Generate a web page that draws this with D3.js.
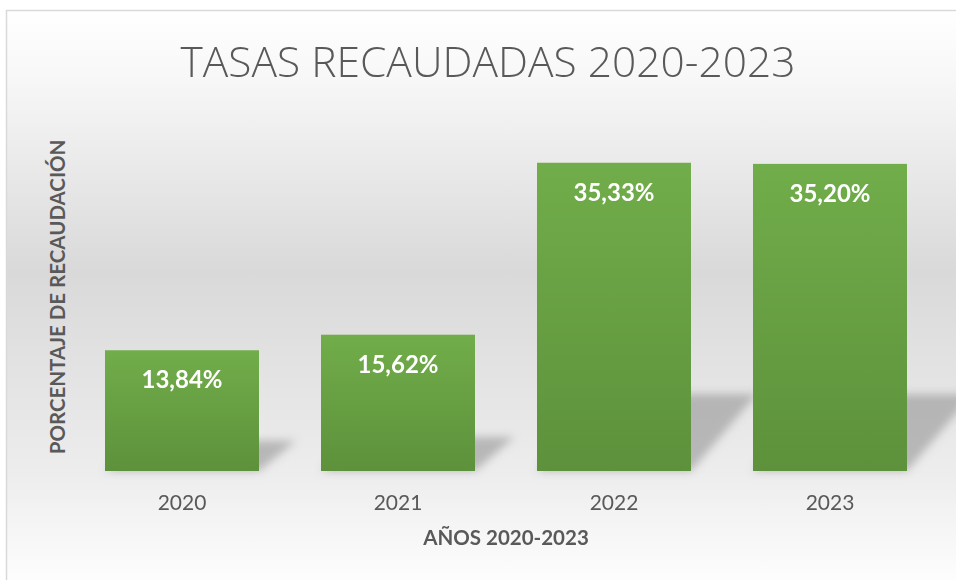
<!DOCTYPE html>
<html>
<head>
<meta charset="utf-8">
<script src="https://cdn.jsdelivr.net/npm/d3@7"></script>
<style>
  body { margin: 0; background: #fff; }
  svg { display: block; }
</style>
</head>
<body>
<script>
// data
var years = ["2020", "2021", "2022", "2023"];
var rates = [13.84, 15.62, 35.33, 35.20];
var labels = ["13,84%", "15,62%", "35,33%", "35,20%"];
var chartTitle = "TASAS RECAUDADAS 2020-2023";
var xTitle = "AÑOS 2020-2023";
var yTitle = "PORCENTAJE DE RECAUDACIÓN";

var width = 956, height = 580;
var font = "Lato, 'Open Sans', sans-serif";
var grey = "#595959";

var svg = d3.select("body").append("svg")
  .attr("width", width)
  .attr("height", height);

var defs = svg.append("defs");

// chart area background gradient (white - grey - white)
var bg = defs.append("linearGradient")
  .attr("id", "bgGrad")
  .attr("x1", 0).attr("y1", 0).attr("x2", 0).attr("y2", 1);
bg.append("stop").attr("offset", "0").attr("stop-color", "#ffffff");
bg.append("stop").attr("offset", "0.12").attr("stop-color", "#f7f7f7");
bg.append("stop").attr("offset", "0.45").attr("stop-color", "#d9d9d9");
bg.append("stop").attr("offset", "0.8").attr("stop-color", "#ededed");
bg.append("stop").attr("offset", "1").attr("stop-color", "#ffffff");

// bar gradient
var barGrad = defs.append("linearGradient")
  .attr("id", "barGrad")
  .attr("x1", 0).attr("y1", 0).attr("x2", 0).attr("y2", 1);
barGrad.append("stop").attr("offset", "0").attr("stop-color", "#71ad4a");
barGrad.append("stop").attr("offset", "1").attr("stop-color", "#5d913b");

// blur for the bar shadows
defs.append("filter")
  .attr("id", "blur")
  .attr("x", "-30%").attr("y", "-30%")
  .attr("width", "160%").attr("height", "160%")
  .append("feGaussianBlur")
  .attr("stdDeviation", 4);

// frame
svg.append("rect")
  .attr("x", 6.5).attr("y", 10.5)
  .attr("width", 960).attr("height", 580)
  .attr("fill", "url(#bgGrad)")
  .attr("stroke", "#d9d9d9")
  .attr("stroke-width", 1.5);

// scales
var x = d3.scaleBand()
  .domain(years)
  .range([74, 938])
  .paddingInner(0.287)
  .paddingOuter(0.1435);

var y = d3.scaleLinear()
  .domain([0, 40])
  .range([471, 122]);

// perspective shadows
svg.append("g")
  .attr("filter", "url(#blur)")
  .selectAll("path")
  .data(rates)
  .join("path")
  .attr("d", function(d, i) {
    var x0 = x(years[i]), x1 = x0 + x.bandwidth();
    var base = y(0), h = y(0) - y(d);
    var sh = h * 0.25, dx = 18 + sh * 0.62;
    return "M" + x0 + "," + base + "L" + x1 + "," + base +
      "L" + (x1 + dx) + "," + (base - sh) + "L" + (x0 + dx) + "," + (base - sh) + "Z";
  })
  .attr("fill", "#8c8c8c")
  .attr("opacity", 0.55);

// bars
svg.append("g")
  .selectAll("rect")
  .data(rates)
  .join("rect")
  .attr("x", function(d, i) { return x(years[i]); })
  .attr("y", function(d) { return y(d); })
  .attr("width", x.bandwidth())
  .attr("height", function(d) { return y(0) - y(d); })
  .attr("fill", "url(#barGrad)");

// value labels
svg.append("g")
  .selectAll("text")
  .data(rates)
  .join("text")
  .attr("x", function(d, i) { return x(years[i]) + x.bandwidth() / 2; })
  .attr("y", function(d) { return y(d) + 38; })
  .attr("text-anchor", "middle")
  .attr("font-family", font)
  .attr("font-weight", "bold")
  .attr("font-size", 24)
  .attr("fill", "#ffffff")
  .text(function(d, i) { return labels[i]; });

// x axis labels
var xAxis = svg.append("g")
  .attr("transform", "translate(0," + y(0) + ")")
  .call(d3.axisBottom(x).tickSize(0).tickPadding(24));
xAxis.select(".domain").remove();
xAxis.selectAll("text")
  .attr("font-family", font)
  .attr("font-size", 21)
  .attr("fill", grey);

// title
svg.append("text")
  .attr("x", 488).attr("y", 77)
  .attr("text-anchor", "middle")
  .attr("font-family", "'Open Sans', sans-serif")
  .attr("font-weight", 300)
  .attr("font-size", 42)
  .attr("textLength", 615)
  .attr("lengthAdjust", "spacingAndGlyphs")
  .attr("fill", grey)
  .text(chartTitle);

// axis titles
svg.append("text")
  .attr("x", 506).attr("y", 545)
  .attr("text-anchor", "middle")
  .attr("font-family", font)
  .attr("font-weight", "bold")
  .attr("font-size", 20.5)
  .attr("fill", grey)
  .text(xTitle);

svg.append("text")
  .attr("transform", "translate(65,297) rotate(-90)")
  .attr("text-anchor", "middle")
  .attr("font-family", font)
  .attr("font-weight", "bold")
  .attr("font-size", 20.5)
  .attr("fill", grey)
  .text(yTitle);
</script>
</body>
</html>
